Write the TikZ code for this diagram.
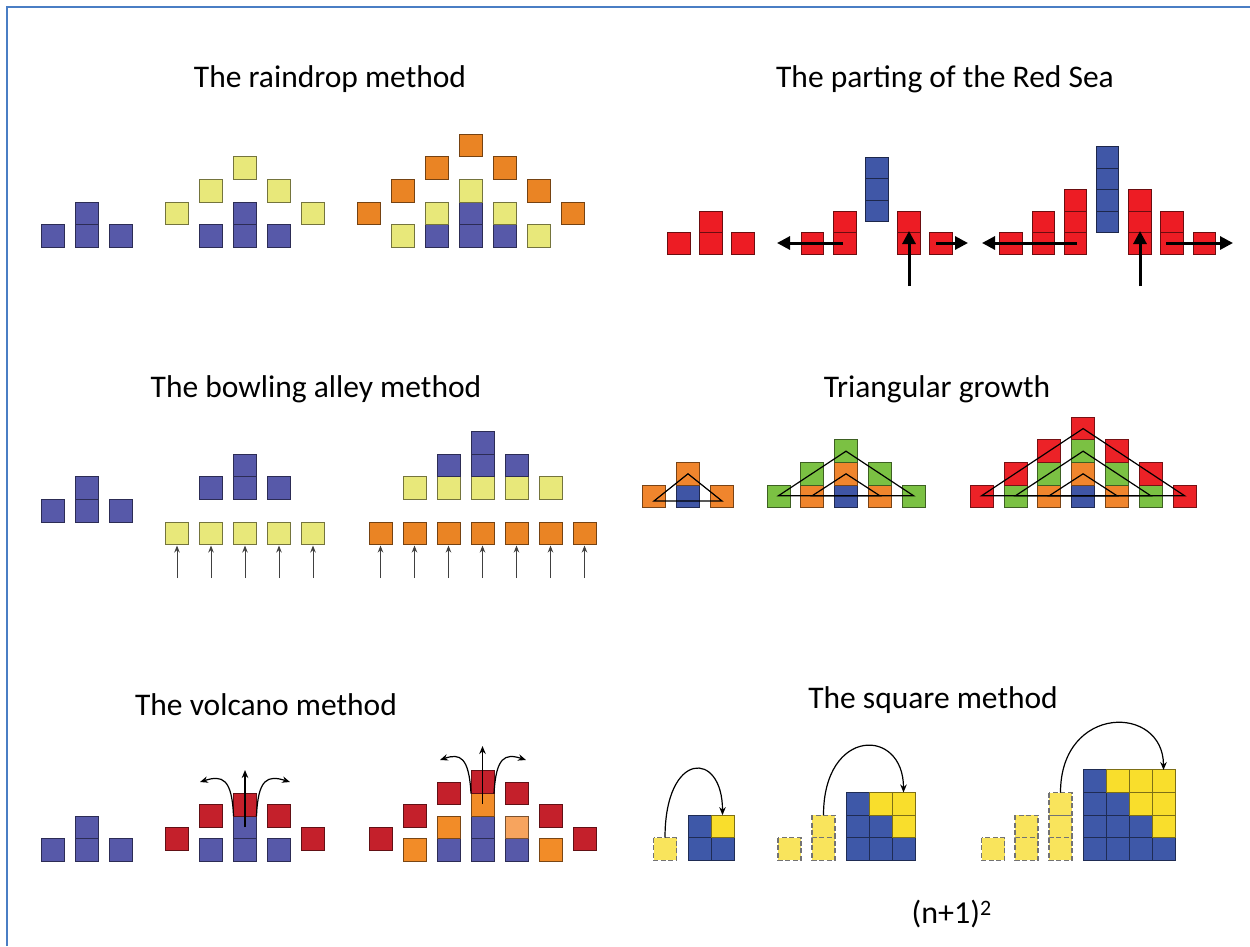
\documentclass[tikz,border=0pt]{standalone}
\usepackage{fontspec}
\setmainfont{Carlito}
\usetikzlibrary{arrows.meta}
\definecolor{frameblue}{HTML}{4A7EC4}
\definecolor{rdblue}{HTML}{5759A9}
\definecolor{rdyellow}{HTML}{E8E87A}
\definecolor{rdorange}{HTML}{EA8424}
\definecolor{seared}{HTML}{ED1C24}
\definecolor{seablue}{HTML}{4057A7}
\definecolor{trorange}{HTML}{F0852D}
\definecolor{trblue}{HTML}{3F55A5}
\definecolor{trgreen}{HTML}{7BC143}
\definecolor{trred}{HTML}{EC2227}
\definecolor{vcred}{HTML}{C4202B}
\definecolor{vcorange}{HTML}{F28C28}
\definecolor{vclorange}{HTML}{F7A45E}
\definecolor{sqblue}{HTML}{3E58A8}
\definecolor{sqyellow}{HTML}{F9DE2C}
\definecolor{sqdash}{HTML}{F9E45C}
% cell: centre x, bottom of row 1, row index k (top = base - k*h), colour
\newcommand\mycell[4]{\filldraw[line width=0.9pt,fill=#4,draw=#4!50!black] ({#1-11.5},{#2-(#3)*22.6}) rectangle ++(23,22.6);}
\newcommand\seacell[4]{\filldraw[line width=0.9pt,fill=#4,draw=#4!45!black] ({#1-11.25},{#2-(#3)*21.5}) rectangle ++(22.5,21.5);}
\newcommand\dashcell[3]{\filldraw[line width=1.2pt,dash pattern=on 5pt off 2.5pt,fill=sqdash,draw=black!55] ({#1-11.5},{#2-(#3)*22.6}) rectangle ++(23,22.6);}
\tikzset{
  ttl/.style={font=\fontsize{31.5}{38}\selectfont, anchor=base, inner sep=0pt},
  thinarr/.style={line width=1.2pt, -{Stealth[length=8pt,width=6.5pt]}},
  bowlarr/.style={line width=1pt, black!75, -{Stealth[length=7pt,width=5.5pt]}},
  thickarr/.style={line width=3pt, -{Triangle[length=13pt,width=13pt]}},
  triline/.style={line width=1.2pt, black, line join=miter}
}
\begin{document}
\begin{tikzpicture}[x=1pt,y=-1pt]
\useasboundingbox (0,0) rectangle (1250,946);
\draw[frameblue, line width=1.6pt] (7,946) -- (7,7) -- (1250,7);

% ---------- titles ----------
\node[ttl] (t1) at (330,87) {The raindrop method};
\node[ttl] (t2) at (945,87) {The parting of the Red Sea};
\node[ttl] (t3) at (316,397) {The bowling alley method};
\node[ttl] (t4) at (937,397) {Triangular growth};
\node[ttl] (t5) at (266,715) {The volcano method};
\node[ttl] (t6) at (933,708) {The square method};
\node[ttl, font=\fontsize{32}{38}\selectfont] (t7) at (951.5,923) {(n+1)\raisebox{8pt}{\fontsize{22}{22}\selectfont 2}};

% ---------- raindrop ----------
\def\b{247.3}
\mycell{53}{\b}{1}{rdblue}\mycell{87}{\b}{1}{rdblue}\mycell{87}{\b}{2}{rdblue}\mycell{121}{\b}{1}{rdblue}
\mycell{177}{\b}{2}{rdyellow}
\mycell{211}{\b}{1}{rdblue}\mycell{211}{\b}{3}{rdyellow}
\mycell{245}{\b}{1}{rdblue}\mycell{245}{\b}{2}{rdblue}\mycell{245}{\b}{4}{rdyellow}
\mycell{279}{\b}{1}{rdblue}\mycell{279}{\b}{3}{rdyellow}
\mycell{313}{\b}{2}{rdyellow}
\mycell{369}{\b}{2}{rdorange}
\mycell{403}{\b}{1}{rdyellow}\mycell{403}{\b}{3}{rdorange}
\mycell{437}{\b}{1}{rdblue}\mycell{437}{\b}{2}{rdyellow}\mycell{437}{\b}{4}{rdorange}
\mycell{471}{\b}{1}{rdblue}\mycell{471}{\b}{2}{rdblue}\mycell{471}{\b}{3}{rdyellow}\mycell{471}{\b}{5}{rdorange}
\mycell{505}{\b}{1}{rdblue}\mycell{505}{\b}{2}{rdyellow}\mycell{505}{\b}{4}{rdorange}
\mycell{539}{\b}{1}{rdyellow}\mycell{539}{\b}{3}{rdorange}
\mycell{573}{\b}{2}{rdorange}

% ---------- parting of the Red Sea ----------
\def\b{254}
\seacell{679}{\b}{1}{seared}\seacell{711}{\b}{1}{seared}\seacell{711}{\b}{2}{seared}\seacell{743}{\b}{1}{seared}
\seacell{812.5}{\b}{1}{seared}
\seacell{845}{\b}{1}{seared}\seacell{845}{\b}{2}{seared}
\seacell{877}{\b}{2.5}{seablue}\seacell{877}{\b}{3.5}{seablue}\seacell{877}{\b}{4.5}{seablue}
\seacell{909}{\b}{1}{seared}\seacell{909}{\b}{2}{seared}
\seacell{941}{\b}{1}{seared}
\seacell{1011}{\b}{1}{seared}
\seacell{1043.2}{\b}{1}{seared}\seacell{1043.2}{\b}{2}{seared}
\seacell{1075.4}{\b}{1}{seared}\seacell{1075.4}{\b}{2}{seared}\seacell{1075.4}{\b}{3}{seared}
\seacell{1107.6}{\b}{2}{seablue}\seacell{1107.6}{\b}{3}{seablue}\seacell{1107.6}{\b}{4}{seablue}\seacell{1107.6}{\b}{5}{seablue}
\seacell{1139.8}{\b}{1}{seared}\seacell{1139.8}{\b}{2}{seared}\seacell{1139.8}{\b}{3}{seared}
\seacell{1172}{\b}{1}{seared}\seacell{1172}{\b}{2}{seared}
\seacell{1204.2}{\b}{1}{seared}
\draw[thickarr] (843,243) -- (777,243);
\draw[thickarr] (936,243) -- (968,243);
\draw[thickarr] (909,286) -- (909,231);
\draw[thickarr] (1077,243) -- (982,243);
\draw[thickarr] (1166,243) -- (1233,243);
\draw[thickarr] (1140,286) -- (1140,231);

% ---------- bowling alley ----------
\mycell{53}{522}{1}{rdblue}\mycell{87}{522}{1}{rdblue}\mycell{87}{522}{2}{rdblue}\mycell{121}{522}{1}{rdblue}
\mycell{211}{499.3}{1}{rdblue}\mycell{245}{499.3}{1}{rdblue}\mycell{245}{499.3}{2}{rdblue}\mycell{279}{499.3}{1}{rdblue}
\foreach \x in {177,211,245,279,313}{
  \mycell{\x}{544.7}{1}{rdyellow}
  \draw[bowlarr] (\x,578) -- (\x,545.5);
}
\foreach \x in {414.5,448.5,482.5,516.5,550.5}{\mycell{\x}{499.3}{1}{rdyellow}}
\mycell{448.5}{499.3}{2}{rdblue}\mycell{482.5}{499.3}{2}{rdblue}\mycell{482.5}{499.3}{3}{rdblue}\mycell{516.5}{499.3}{2}{rdblue}
\foreach \x in {380.5,414.5,448.5,482.5,516.5,550.5,584.5}{
  \mycell{\x}{544.7}{1}{rdorange}
  \draw[bowlarr] (\x,578) -- (\x,545.5);
}

% ---------- triangular growth ----------
\def\b{507.7}
\mycell{654}{\b}{1}{trorange}\mycell{688}{\b}{1}{trblue}\mycell{688}{\b}{2}{trorange}\mycell{722}{\b}{1}{trorange}
\draw[triline] (654,501) -- (688,473.8) -- (722,501) -- cycle;
\mycell{778.5}{\b}{1}{trgreen}
\mycell{812.25}{\b}{1}{trorange}\mycell{812.25}{\b}{2}{trgreen}
\mycell{846}{\b}{1}{trblue}\mycell{846}{\b}{2}{trorange}\mycell{846}{\b}{3}{trgreen}
\mycell{879.75}{\b}{1}{trorange}\mycell{879.75}{\b}{2}{trgreen}
\mycell{913.5}{\b}{1}{trgreen}
\draw[triline] (778.5,495.7) -- (846,451.2) -- (913.5,495.7) -- cycle;
\draw[triline] (812.25,495.7) -- (846,473.8) -- (879.75,495.7) -- cycle;
\mycell{981.7}{\b}{1}{trred}
\mycell{1015.5}{\b}{1}{trgreen}\mycell{1015.5}{\b}{2}{trred}
\mycell{1049.3}{\b}{1}{trorange}\mycell{1049.3}{\b}{2}{trgreen}\mycell{1049.3}{\b}{3}{trred}
\mycell{1083.1}{\b}{1}{trblue}\mycell{1083.1}{\b}{2}{trorange}\mycell{1083.1}{\b}{3}{trgreen}\mycell{1083.1}{\b}{4}{trred}
\mycell{1116.9}{\b}{1}{trorange}\mycell{1116.9}{\b}{2}{trgreen}\mycell{1116.9}{\b}{3}{trred}
\mycell{1150.7}{\b}{1}{trgreen}\mycell{1150.7}{\b}{2}{trred}
\mycell{1184.5}{\b}{1}{trred}
\draw[triline] (981.7,495.7) -- (1083.1,428.6) -- (1184.5,495.7) -- cycle;
\draw[triline] (1015.5,495.7) -- (1083.1,451.2) -- (1150.7,495.7) -- cycle;
\draw[triline] (1049.3,495.7) -- (1083.1,473.8) -- (1116.9,495.7) -- cycle;

% ---------- volcano ----------
\def\b{861.3}
\mycell{53}{\b}{1}{rdblue}\mycell{87}{\b}{1}{rdblue}\mycell{87}{\b}{2}{rdblue}\mycell{121}{\b}{1}{rdblue}
\mycell{177}{\b}{1.5}{vcred}
\mycell{211}{\b}{1}{rdblue}\mycell{211}{\b}{2.5}{vcred}
\mycell{245}{\b}{1}{rdblue}\mycell{245}{\b}{2}{rdblue}\mycell{245}{\b}{3}{vcred}
\mycell{279}{\b}{1}{rdblue}\mycell{279}{\b}{2.5}{vcred}
\mycell{313}{\b}{1.5}{vcred}
\draw[thinarr] (245,827) -- (245,770);
\draw[thinarr] (233.5,816.1) .. controls (232,778) and (222,775) .. (200,782);
\draw[thinarr] (256.5,816.1) .. controls (258,778) and (268,775) .. (290,782);
\mycell{380.5}{\b}{1.5}{vcred}
\mycell{414.5}{\b}{1}{vcorange}\mycell{414.5}{\b}{2.5}{vcred}
\mycell{448.5}{\b}{1}{rdblue}\mycell{448.5}{\b}{2}{vcorange}\mycell{448.5}{\b}{3.5}{vcred}
\mycell{482.5}{\b}{1}{rdblue}\mycell{482.5}{\b}{2}{rdblue}\mycell{482.5}{\b}{3}{vcorange}\mycell{482.5}{\b}{4}{vcred}
\mycell{516.5}{\b}{1}{rdblue}\mycell{516.5}{\b}{2}{vclorange}\mycell{516.5}{\b}{3.5}{vcred}
\mycell{550.5}{\b}{1}{vcorange}\mycell{550.5}{\b}{2.5}{vcred}
\mycell{584.5}{\b}{1.5}{vcred}
\draw[thinarr] (482.5,804) -- (482.5,746);
\draw[thinarr] (471,793.5) .. controls (469,757) and (460,753) .. (440,760);
\draw[thinarr] (494,793.5) .. controls (496,757) and (505,753) .. (526,760);

% ---------- square method ----------
\def\b{860.3}
\dashcell{665}{\b}{1}
\mycell{699.5}{\b}{1}{sqblue}\mycell{722.5}{\b}{1}{sqblue}
\mycell{699.5}{\b}{2}{sqblue}\mycell{722.5}{\b}{2}{sqyellow}
\draw[thinarr] (665,837.7) .. controls (665,750) and (722.5,750) .. (722.5,815.1);
\dashcell{789.5}{\b}{1}
\dashcell{823.5}{\b}{1}\dashcell{823.5}{\b}{2}
\foreach \x in {857.5,880.5,903.5}{\mycell{\x}{\b}{1}{sqblue}}
\mycell{857.5}{\b}{2}{sqblue}\mycell{880.5}{\b}{2}{sqblue}\mycell{903.5}{\b}{2}{sqyellow}
\mycell{857.5}{\b}{3}{sqblue}\mycell{880.5}{\b}{3}{sqyellow}\mycell{903.5}{\b}{3}{sqyellow}
\draw[thinarr] (823.5,815.1) .. controls (823.5,727) and (903.5,727) .. (903.5,792.5);
\dashcell{993}{\b}{1}
\dashcell{1026.5}{\b}{1}\dashcell{1026.5}{\b}{2}
\dashcell{1060.5}{\b}{1}\dashcell{1060.5}{\b}{2}\dashcell{1060.5}{\b}{3}
\foreach \x in {1094.5,1117.5,1140.5,1163.5}{\mycell{\x}{\b}{1}{sqblue}}
\mycell{1094.5}{\b}{2}{sqblue}\mycell{1117.5}{\b}{2}{sqblue}\mycell{1140.5}{\b}{2}{sqblue}\mycell{1163.5}{\b}{2}{sqyellow}
\mycell{1094.5}{\b}{3}{sqblue}\mycell{1117.5}{\b}{3}{sqblue}\mycell{1140.5}{\b}{3}{sqyellow}\mycell{1163.5}{\b}{3}{sqyellow}
\mycell{1094.5}{\b}{4}{sqblue}\mycell{1117.5}{\b}{4}{sqyellow}\mycell{1140.5}{\b}{4}{sqyellow}\mycell{1163.5}{\b}{4}{sqyellow}
\draw[thinarr] (1060.5,792.5) .. controls (1060.5,704) and (1163.5,704) .. (1163.5,770);
\end{tikzpicture}
\end{document}
